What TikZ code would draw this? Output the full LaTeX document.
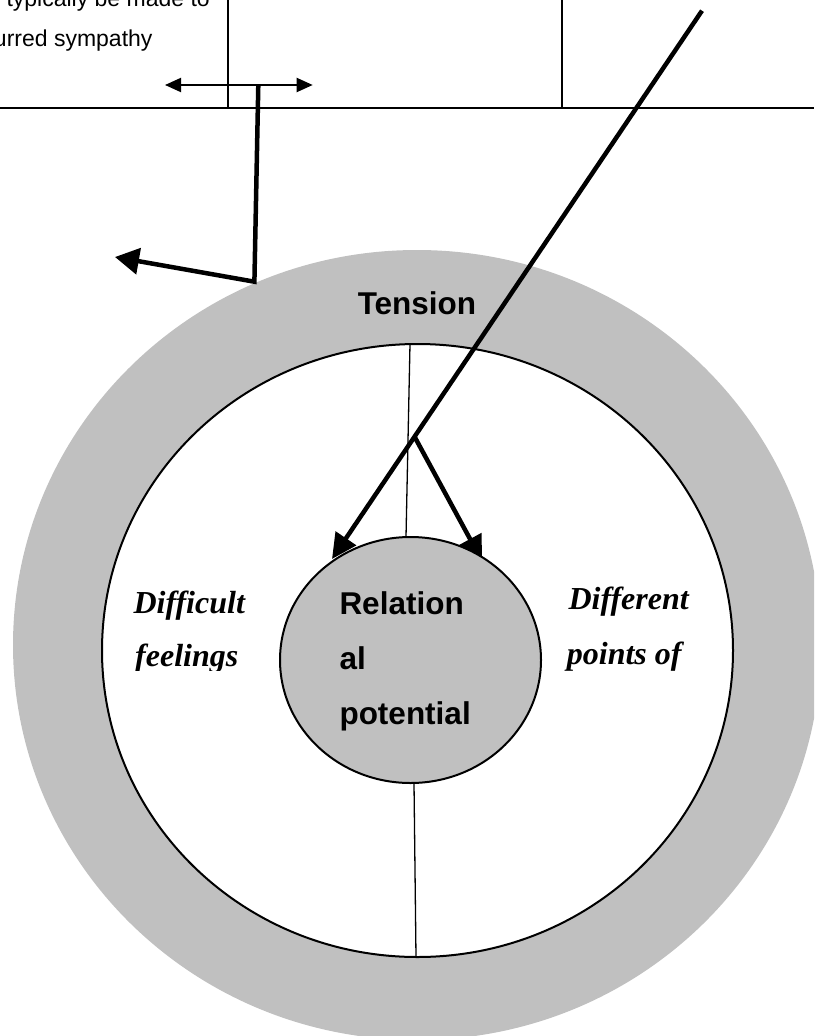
\documentclass[tikz,border=0pt]{standalone}
\usepackage{fontspec}
\setmainfont{Liberation Serif}
\setsansfont{Liberation Sans}
\usetikzlibrary{arrows.meta}
\definecolor{ringgray}{RGB}{192,192,192}

\tikzset{
  bodytext/.style={font=\sffamily\fontsize{23}{41}\selectfont, inner sep=0pt, anchor=base east},
  boldlabel/.style={font=\sffamily\bfseries\fontsize{31.5}{55}\selectfont, inner sep=0pt, anchor=base west},
  sidelabel/.style={font=\rmfamily\bfseries\itshape\fontsize{32}{53}\selectfont, inner sep=0pt, anchor=base west},
  thinline/.style={line width=1.3pt},
  thickline/.style={line width=4.5pt, line join=miter},
}

\begin{document}
\begin{tikzpicture}[x=1pt,y=-1pt]
   \useasboundingbox (0,0) rectangle (814,1036);
   \clip (0,0) rectangle (814,1036);

   % table lines at the top
   \draw[line width=2pt] (0,107.7) -- (814,107.7);
   \draw[line width=2pt] (227.7,0) -- (227.7,107.7);
   \draw[line width=2pt] (562.3,0) -- (562.3,107.7);
   \node[bodytext] (typ) at (210,6) {typically be made to};
   \node[bodytext] (sym) at (152.7,46.7) {urred sympathy};

   % rings
   \fill[ringgray] (417,645) ellipse [x radius=404, y radius=395];
   \draw[line width=2pt, fill=white] (417.5,650.5) ellipse [x radius=315.5, y radius=306.5];

   % dividers
   \coordinate (dtop) at (410,344);
   \coordinate (dtopend) at (406,537);
   \coordinate (dbot) at (414,783);
   \coordinate (dbotend) at (416,957);
   \draw[thinline] (dtop) -- (dtopend);
   \draw[thinline] (dbot) -- (dbotend);

   % double arrow with its stem
   \coordinate (dl) at (165,85);
   \coordinate (dr) at (312.7,85);
   \coordinate (stemtop) at (258.3,85);
   \coordinate (stembot) at (254.4,281.7);
   \coordinate (bigtip) at (115,257);
   \draw[line width=2pt, {Triangle[length=16pt,width=14pt]}-{Triangle[length=16pt,width=14pt]}] (dl) -- (dr);
   \draw[thickline, -{Triangle[length=24pt,width=26pt]}] (stemtop) -- (stembot) -- (bigtip);

   % long arrow and its fork
   \coordinate (ptop) at (702,10.7);
   \coordinate (fork) at (414.5,436.6);
   \coordinate (lefttip) at (332,559);
   \coordinate (righttip) at (482,561);
   \draw[thickline, -{Triangle[length=25pt,width=24pt]}] (ptop) -- (lefttip);
   \draw[thickline, -{Triangle[length=25pt,width=25pt]}] (fork) -- (righttip);

   % centre
   \draw[line width=2pt, fill=ringgray] (410.5,660) ellipse [x radius=130.5, y radius=123];

   \node[boldlabel, anchor=base] (tension) at (417,314) {Tension};
   \node[boldlabel] (rel1) at (339.3,614) {Relation};
   \node[boldlabel] (rel2) at (339.3,669.3) {al};
   \node[boldlabel] (rel3) at (339.3,724) {potential};

   \begin{scope}
     \clip (0,0) rectangle (814,670);
     \node[sidelabel] (dif1) at (133.3,613.3) {Difficult};
     \node[sidelabel] (dif2) at (135,666.7) {feelings};
     \node[sidelabel] (pts1) at (568.3,609.3) {Different};
     \node[sidelabel] (pts2) at (566.7,664.3) {points of};
   \end{scope}
\end{tikzpicture}
\end{document}
